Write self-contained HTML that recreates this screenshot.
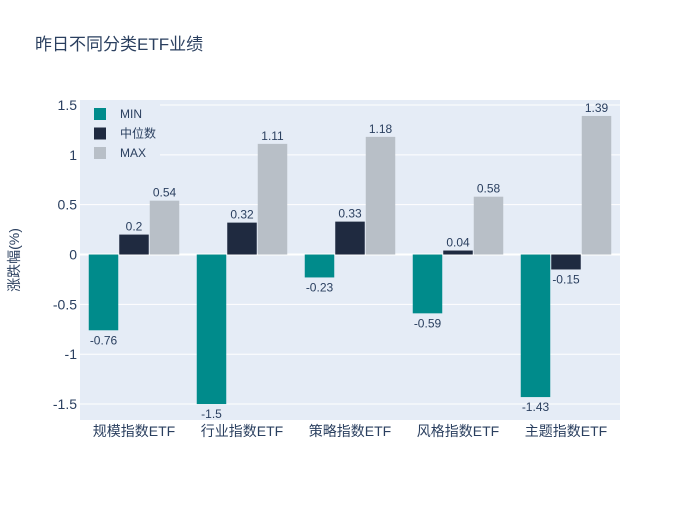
<!DOCTYPE html>
<html><head><meta charset="utf-8"><style>
body{margin:0;background:#fff;font-family:"Liberation Sans","Noto Sans CJK SC",sans-serif;}
svg text{font-family:"Liberation Sans","Noto Sans CJK SC",sans-serif;}
</style></head><body>
<svg id="c" width="700" height="500">
<rect x="0" y="0" width="700" height="500" fill="#fff"/>
<text x="35" y="50" font-size="17" fill="#2a3f5f">昨日不同分类ETF业绩</text>
<rect x="80" y="100" width="540" height="320" fill="#e5ecf6"/>
<g id="grid"></g><g id="bars"></g><g id="axes"></g>
<text transform="translate(19,260) rotate(-90)" text-anchor="middle" font-size="14" fill="#2a3f5f">涨跌幅(%)</text>
<g id="legend"></g>
</svg>
<script>
const categories=["规模指数ETF","行业指数ETF","策略指数ETF","风格指数ETF","主题指数ETF"];
const minVals=[-0.76,-1.5,-0.23,-0.59,-1.43];
const medVals=[0.2,0.32,0.33,0.04,-0.15];
const maxVals=[0.54,1.11,1.18,0.58,1.39];
const yTicks=[-1.5,-1,-0.5,0,0.5,1,1.5];
const seriesNames=["MIN","中位数","MAX"];
const colors=["#008b8b","#1f2a40","#b8bfc7"];
const NS="http://www.w3.org/2000/svg";
const X0=80,W=540,Y0=100,H=320,yMax=1.55,yMin=-1.66;
const y=v=>Y0+(yMax-v)/(yMax-yMin)*H;
const band=W/categories.length;
function mk(t,a,p){const e=document.createElementNS(NS,t);for(const k in a)e.setAttribute(k,a[k]);p.appendChild(e);return e;}
const grid=document.getElementById('grid'),bars=document.getElementById('bars'),axes=document.getElementById('axes'),legend=document.getElementById('legend');
yTicks.forEach(t=>{
 const l=mk('line',{x1:X0,x2:X0+W,y1:y(t),y2:y(t),stroke:'#fff','stroke-width':t===0?2:1},grid);
 
 
 const tx=mk('text',{x:X0-3,y:y(t)+5,'text-anchor':'end','font-size':14,fill:'#2a3f5f'},axes);
 tx.textContent=String(t);
 
 
});
const series=[minVals,medVals,maxVals];
const bw=30.5,pad=(band-bw*3)/2;
categories.forEach((c,i)=>{
 series.forEach((s,j)=>{
  const v=s[i],bx=X0+i*band+pad+j*bw;
  const top=Math.min(y(v),y(0)),h=Math.abs(y(v)-y(0));
  const r=mk('rect',{x:bx+0.5,y:top,width:bw-1,height:h,fill:colors[j]},bars);
  
  
  const ly=v>=0?y(v)-4:y(v)+14;
  const t=mk('text',{x:bx+bw/2,y:ly,'text-anchor':'middle','font-size':12,fill:'#2a3f5f'},bars);
  t.textContent=String(v);
  
  
 });
 const t=mk('text',{x:X0+i*band+band/2,y:436,'text-anchor':'middle','font-size':14,fill:'#2a3f5f'},axes);
 t.textContent=c;
 
 
});
const lb=mk('rect',{x:80,y:100,width:80,height:67,fill:'#e5ecf6'},legend);


seriesNames.forEach((n,j)=>{
 const ly=114+j*19.5;
 const r=mk('rect',{x:94,y:ly-6,width:12,height:12,fill:colors[j]},legend);
 
 
 const t=mk('text',{x:120,y:ly+4,'font-size':12,fill:'#2a3f5f'},legend);
 t.textContent=n;
 
 
});
</script>
</body></html>
